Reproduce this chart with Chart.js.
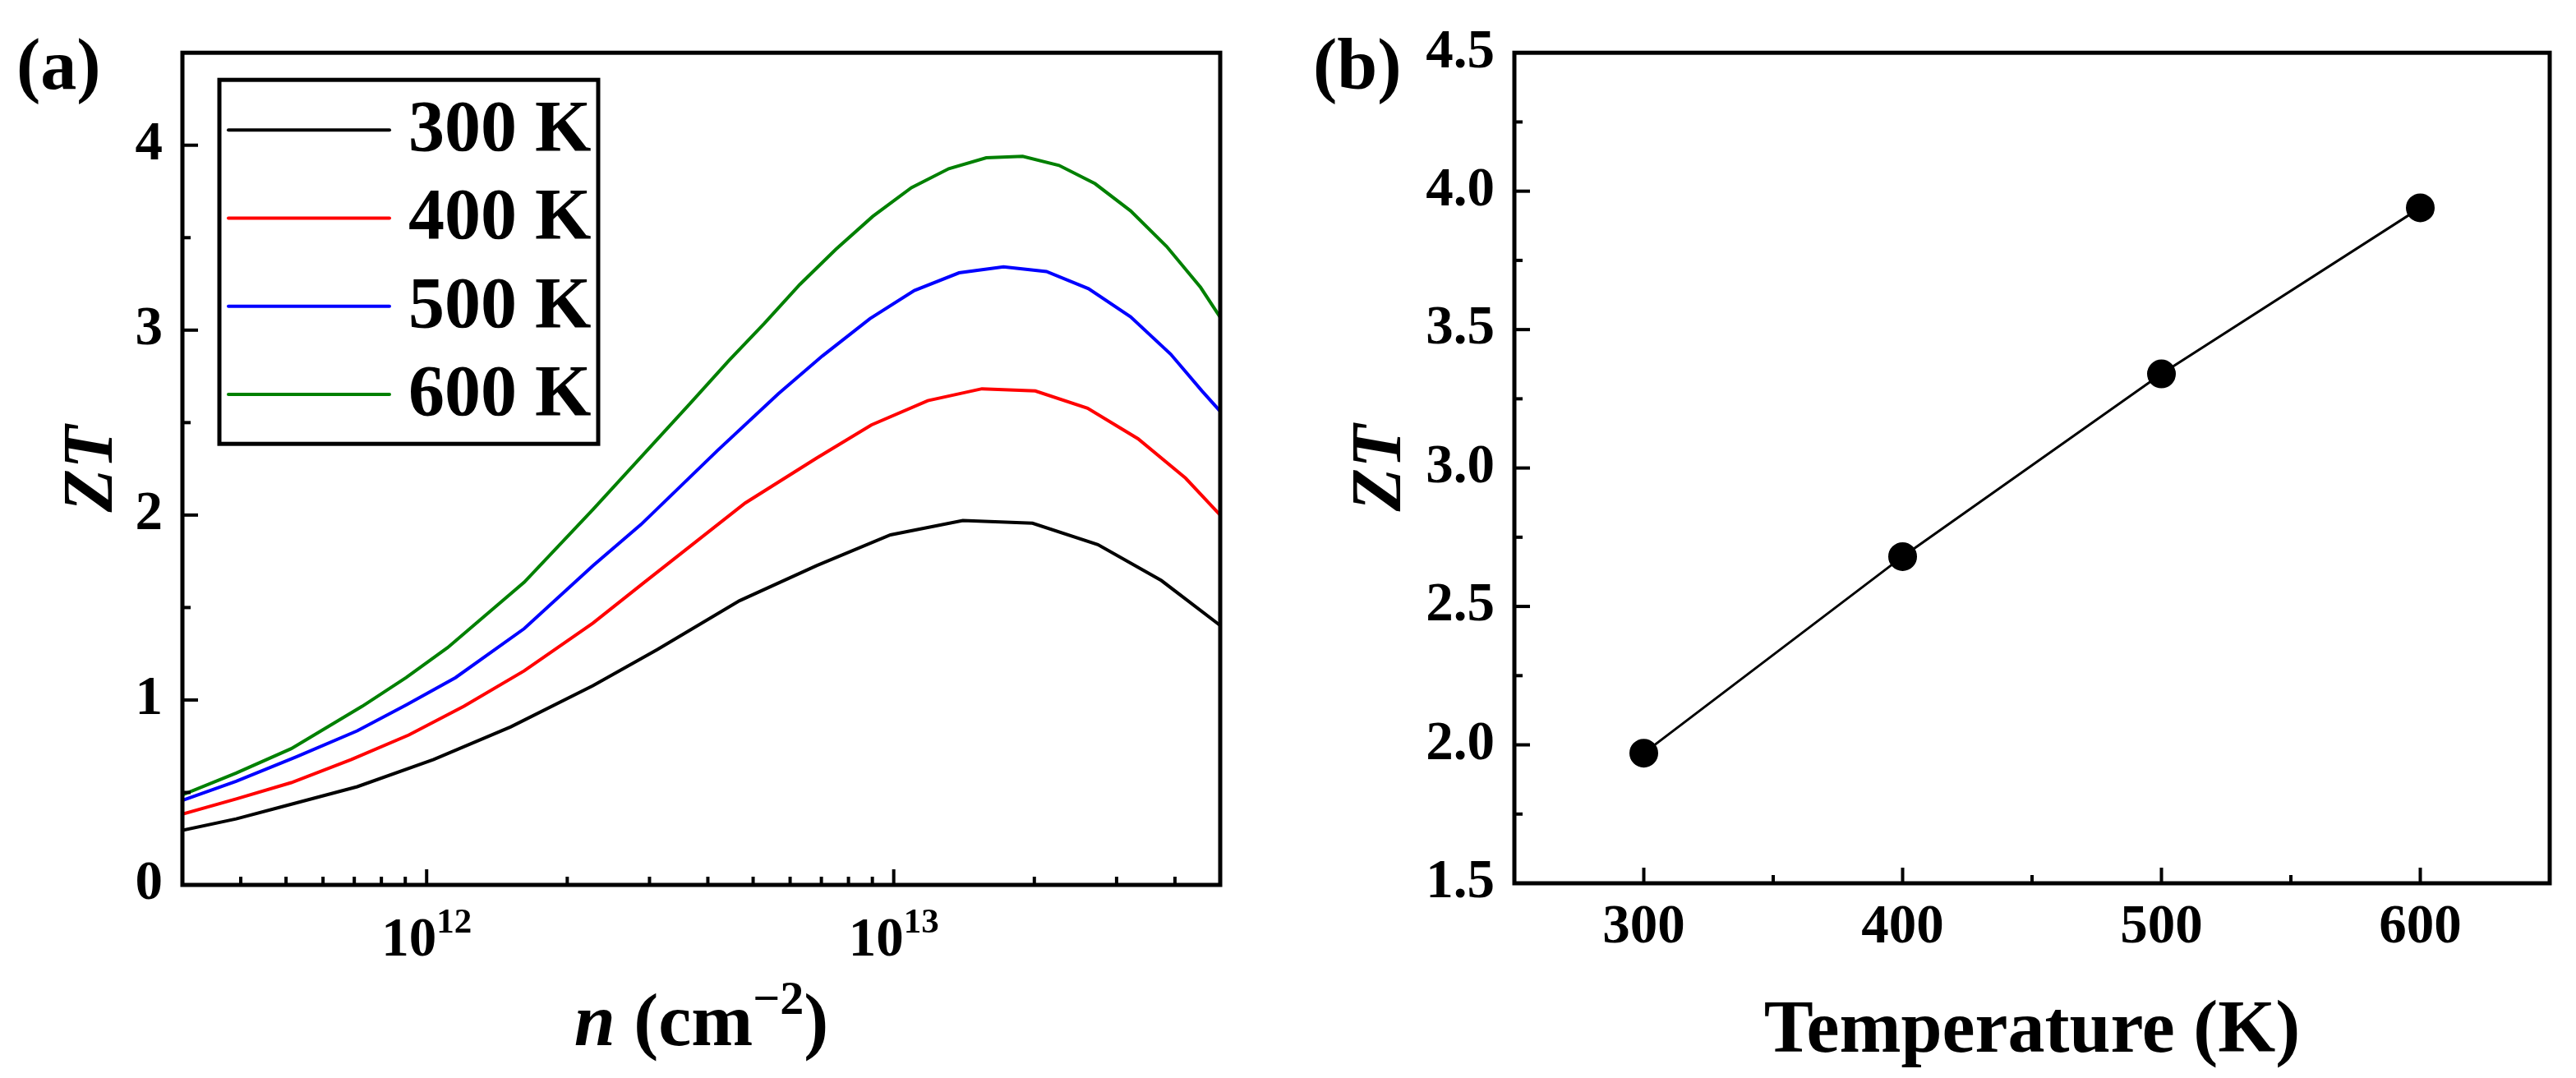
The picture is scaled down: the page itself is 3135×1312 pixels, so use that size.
<!DOCTYPE html>
<html>
<head>
<meta charset="utf-8">
<script src="https://cdn.jsdelivr.net/npm/chart.js@4.4.0/dist/chart.umd.min.js"></script>
<style>
html,body{margin:0;padding:0;background:#fff;}
#wrap{position:relative;width:3135px;height:1312px;background:#fff;overflow:hidden;}
.panel{position:absolute;top:0;height:1312px;}
#pa{left:0;width:1568px;}
#pb{left:1568px;width:1567px;}
</style>
</head>
<body>
<div id="wrap">
  <div class="panel" id="pa"><canvas id="ca"></canvas></div>
  <div class="panel" id="pb"><canvas id="cb"></canvas></div>
</div>
<script>
// ---------------- DATA: panel (a) ----------------
const seriesLabels = ['300 K', '400 K', '500 K', '600 K'];
const seriesColors = ['#000000', '#ff0000', '#0000ff', '#008000'];

const n300 = [3.0e11, 3.91e11, 4.85e11, 7.10e11, 1.035e12, 1.514e12, 2.27e12, 3.119e12, 4.677e12, 6.839e12, 9.84e12, 1.406e13, 1.982e13, 2.735e13, 3.741e13, 5.0e13];
const zt300 = [0.295, 0.357, 0.42, 0.531, 0.678, 0.855, 1.077, 1.273, 1.537, 1.727, 1.893, 1.970, 1.956, 1.840, 1.646, 1.403];

const n400 = [3.0e11, 3.91e11, 5.13e11, 6.90e11, 9.16e11, 1.202e12, 1.618e12, 2.27e12, 2.911e12, 4.808e12, 6.839e12, 8.954e12, 1.183e13, 1.545e13, 2.009e13, 2.60e13, 3.334e13, 4.217e13, 5.0e13];
const zt400 = [0.383, 0.465, 0.553, 0.678, 0.811, 0.966, 1.158, 1.416, 1.632, 2.065, 2.308, 2.487, 2.619, 2.683, 2.671, 2.578, 2.413, 2.199, 2.0];

const n500 = [3.0e11, 3.91e11, 5.26e11, 7.10e11, 9.04e11, 1.153e12, 1.618e12, 2.27e12, 2.877e12, 4.198e12, 5.662e12, 7.031e12, 8.892e12, 1.107e13, 1.380e13, 1.718e13, 2.123e13, 2.612e13, 3.214e13, 3.917e13, 4.571e13, 5.0e13];
const zt500 = [0.457, 0.56, 0.693, 0.833, 0.973, 1.121, 1.386, 1.726, 1.949, 2.35, 2.656, 2.86, 3.062, 3.214, 3.31, 3.342, 3.317, 3.224, 3.072, 2.87, 2.671, 2.561];

const n600 = [3.0e11, 3.91e11, 5.13e11, 7.28e11, 9.04e11, 1.109e12, 1.618e12, 2.27e12, 3.664e12, 4.436e12, 5.284e12, 6.295e12, 7.516e12, 9.016e12, 1.091e13, 1.312e13, 1.578e13, 1.888e13, 2.259e13, 2.698e13, 3.214e13, 3.837e13, 4.539e13, 5.0e13];
const zt600 = [0.487, 0.605, 0.737, 0.966, 1.121, 1.283, 1.637, 2.03, 2.603, 2.835, 3.036, 3.247, 3.437, 3.615, 3.77, 3.873, 3.932, 3.94, 3.891, 3.792, 3.645, 3.453, 3.231, 3.069];

const nTickValues = [4e11, 5e11, 6e11, 7e11, 8e11, 9e11, 1e12, 2e12, 3e12, 4e12, 5e12, 6e12, 7e12, 8e12, 9e12, 1e13, 2e13, 3e13, 4e13];
const nMajorTicks = [1e12, 1e13];

// ---------------- DATA: panel (b) ----------------
const temperatures = [300, 400, 500, 600];
const ztMax = [1.97, 2.68, 3.34, 3.94];

// ---------------- TEXT ----------------
const panelLabelA = '(a)';
const panelLabelB = '(b)';
const yTitle = [{t: 'ZT', it: true}];
const xTitleA = [{t: 'n', it: true}, {t: ' (cm'}, {t: '\u22122', sup: true}, {t: ')'}];
const xTitleB = [{t: 'Temperature (K)'}];

// ---------------- helpers ----------------
const FONT = '"Liberation Serif", "Times New Roman", Times, serif';
Chart.defaults.color = '#000';
Chart.defaults.font.family = FONT;

function runFont(r, size) {
  const s = r.sup ? size * 0.64 : size;
  return (r.it ? 'italic ' : '') + 'bold ' + Math.round(s) + 'px ' + FONT;
}
function runsWidth(ctx, runs, size) {
  let w = 0;
  runs.forEach(r => { ctx.font = runFont(r, size); w += ctx.measureText(r.t).width; });
  return w;
}
function drawRuns(ctx, runs, cx, baseline, size) {
  const w = runsWidth(ctx, runs, size);
  let x = cx - w / 2;
  ctx.textAlign = 'left';
  ctx.textBaseline = 'alphabetic';
  ctx.fillStyle = '#000';
  runs.forEach(r => {
    ctx.font = runFont(r, size);
    const dy = r.sup ? -0.42 * size : 0;
    ctx.fillText(r.t, x, baseline + dy);
    x += ctx.measureText(r.t).width;
  });
}

function framePlugin(cfg) {
  return {
    id: 'frame_' + cfg.name,
    afterDraw(chart) {
      const ctx = chart.ctx, ca = chart.chartArea;
      const xs = chart.scales.x, ys = chart.scales.y;
      ctx.save();
      ctx.strokeStyle = '#000';
      ctx.lineCap = 'butt';
      ctx.lineWidth = 4;
      // inward ticks
      xs.ticks.forEach(t => {
        if (t.value <= xs.min * 1.0000001 || t.value >= xs.max * 0.9999999) return;
        const px = xs.getPixelForValue(t.value);
        const L = cfg.xMajor(t.value) ? 19 : 10;
        ctx.beginPath(); ctx.moveTo(px, ca.bottom); ctx.lineTo(px, ca.bottom - L); ctx.stroke();
      });
      ys.ticks.forEach(t => {
        if (t.value <= ys.min + 1e-9 || t.value >= ys.max - 1e-9) return;
        const py = ys.getPixelForValue(t.value);
        const L = cfg.yMajor(t.value) ? 19 : 10;
        ctx.beginPath(); ctx.moveTo(ca.left, py); ctx.lineTo(ca.left + L, py); ctx.stroke();
      });
      // frame
      ctx.lineWidth = 5;
      ctx.strokeRect(ca.left, ca.top, ca.right - ca.left, ca.bottom - ca.top);

      // custom x tick labels (superscript powers)
      if (cfg.powerLabels) {
        cfg.powerLabels.forEach(v => {
          const px = xs.getPixelForValue(v);
          const exp = Math.round(Math.log10(v));
          drawRuns(ctx, [{t: '10'}, {t: String(exp), sup: true}], px, ca.bottom + 86, 67);
        });
      }

      // axis titles
      const cxm = (ca.left + ca.right) / 2;
      drawRuns(ctx, cfg.xTitle, cxm, ca.bottom + cfg.xTitleOffset, 90);
      ctx.save();
      ctx.translate(cfg.yTitleX, (ca.top + ca.bottom) / 2);
      ctx.rotate(-Math.PI / 2);
      drawRuns(ctx, yTitle, 0, 0, 86);
      ctx.restore();

      // panel label
      ctx.font = 'bold 88px ' + FONT;
      ctx.textAlign = 'left';
      ctx.textBaseline = 'alphabetic';
      ctx.fillStyle = '#000';
      ctx.fillText(cfg.panelLabel, cfg.panelLabelX, 108);

      // legend
      if (cfg.legend) {
        const bx = ca.left + 45, by = ca.top + 33, bw = 461, bh = 443;
        ctx.lineWidth = 5;
        ctx.strokeRect(bx, by, bw, bh);
        chart.data.datasets.forEach((ds, i) => {
          const y = by + 61 + i * 107.3;
          ctx.strokeStyle = ds.borderColor;
          ctx.lineWidth = 4;
          ctx.lineCap = 'round';
          ctx.beginPath(); ctx.moveTo(bx + 11, y); ctx.lineTo(bx + 207, y); ctx.stroke();
          ctx.fillStyle = '#000';
          ctx.font = 'bold 88px ' + FONT;
          ctx.textAlign = 'left';
          ctx.textBaseline = 'middle';
          ctx.fillText(ds.label, bx + 230, y + 2);
        });
      }
      ctx.restore();
    }
  };
}

// ---------------- chart (a) ----------------
const nArrays = [n300, n400, n500, n600];
const ztArrays = [zt300, zt400, zt500, zt600];

new Chart(document.getElementById('ca'), {
  type: 'line',
  data: {
    datasets: seriesLabels.map((lab, i) => ({
      label: lab,
      data: nArrays[i].map((n, j) => ({x: n, y: ztArrays[i][j]})),
      borderColor: seriesColors[i],
      backgroundColor: seriesColors[i],
      borderWidth: 4,
      pointRadius: 0,
      tension: 0,
      fill: false
    }))
  },
  options: {
    responsive: true,
    maintainAspectRatio: false,
    animation: false,
    devicePixelRatio: 1,
    layout: {padding: {top: 60, right: 83, left: 0, bottom: 0}},
    plugins: {legend: {display: false}, tooltip: {enabled: false}},
    scales: {
      x: {
        type: 'logarithmic', min: 3e11, max: 5e13,
        grid: {display: false, drawTicks: false},
        border: {display: false},
        ticks: {display: false},
        afterBuildTicks: s => { s.ticks = nTickValues.map(v => ({value: v})); },
        afterFit: s => { s.height = 235; }
      },
      y: {
        type: 'linear', min: 0, max: 4.5,
        grid: {display: false, drawTicks: false},
        border: {display: false},
        ticks: {
          stepSize: 0.5, padding: 24, autoSkip: false, color: '#000',
          font: {family: FONT, size: 67, weight: 'bold'},
          callback: v => Number.isInteger(v) ? String(v) : ''
        },
        afterFit: s => { s.width = 222; }
      }
    }
  },
  plugins: [framePlugin({
    name: 'a',
    xMajor: v => nMajorTicks.some(m => Math.abs(m - v) / m < 1e-6),
    yMajor: v => Number.isInteger(v),
    powerLabels: nMajorTicks,
    xTitle: xTitleA,
    xTitleOffset: 195,
    yTitleX: 136,
    panelLabel: panelLabelA,
    panelLabelX: 20,
    legend: true
  })]
});

// ---------------- chart (b) ----------------
new Chart(document.getElementById('cb'), {
  type: 'line',
  data: {
    datasets: [{
      label: 'ZT',
      data: temperatures.map((t, i) => ({x: t, y: ztMax[i]})),
      borderColor: '#000',
      backgroundColor: '#000',
      borderWidth: 3,
      pointRadius: 16,
      pointBackgroundColor: '#000',
      pointBorderColor: '#000',
      tension: 0,
      fill: false
    }]
  },
  options: {
    responsive: true,
    maintainAspectRatio: false,
    animation: false,
    devicePixelRatio: 1,
    layout: {padding: {top: 60, right: 32, left: 0, bottom: 0}},
    plugins: {legend: {display: false}, tooltip: {enabled: false}},
    scales: {
      x: {
        type: 'linear', min: 250, max: 650,
        grid: {display: false, drawTicks: false},
        border: {display: false},
        ticks: {
          stepSize: 50, padding: 14, autoSkip: false, maxRotation: 0, color: '#000',
          font: {family: FONT, size: 67, weight: 'bold'},
          callback: v => (v % 100 === 0) ? String(v) : ''
        },
        afterFit: s => { s.height = 237; }
      },
      y: {
        type: 'linear', min: 1.5, max: 4.5,
        grid: {display: false, drawTicks: false},
        border: {display: false},
        ticks: {
          stepSize: 0.25, padding: 24, autoSkip: false, color: '#000',
          font: {family: FONT, size: 67, weight: 'bold'},
          callback: v => Math.abs(v * 2 - Math.round(v * 2)) < 1e-9 ? v.toFixed(1) : ''
        },
        afterFit: s => { s.width = 275; }
      }
    }
  },
  plugins: [framePlugin({
    name: 'b',
    xMajor: v => v % 100 === 0,
    yMajor: v => Math.abs(v * 2 - Math.round(v * 2)) < 1e-9,
    xTitle: xTitleB,
    xTitleOffset: 205,
    yTitleX: 136,
    panelLabel: panelLabelB,
    panelLabelX: 30,
    legend: false
  })]
});
</script>
</body>
</html>
